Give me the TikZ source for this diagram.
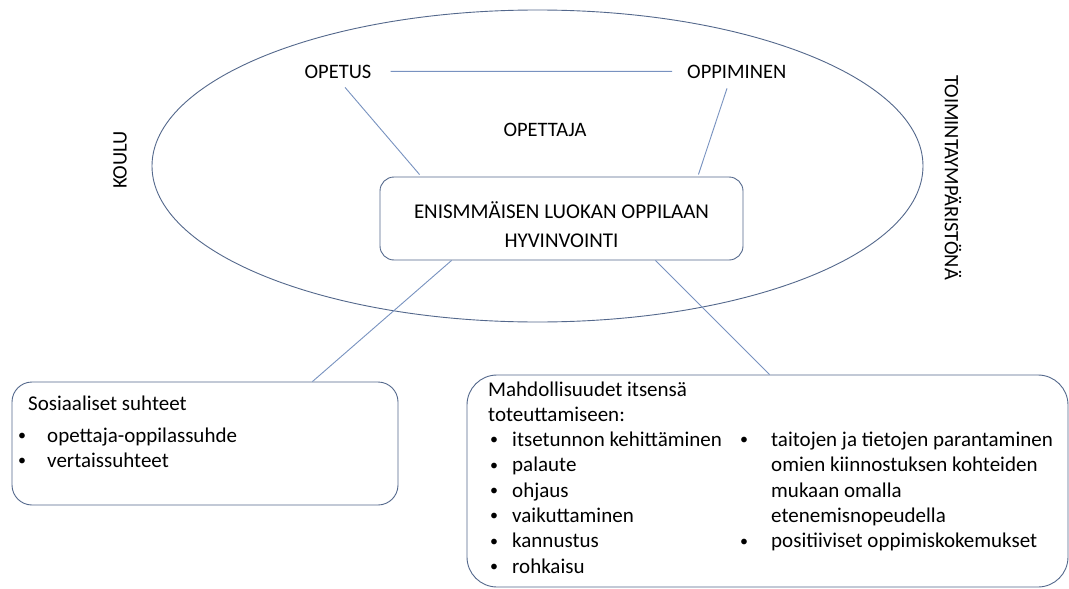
\documentclass[tikz,border=0pt]{standalone}
\usepackage{fontspec}
\setmainfont{Carlito}
\definecolor{outlC}{RGB}{84,104,140}
\definecolor{connC}{RGB}{120,146,192}
\begin{document}
\begin{tikzpicture}[x=1pt,y=-1pt,
  outl/.style={draw=outlC, line width=0.9pt},
  conn/.style={draw=connC, line width=0.9pt},
  lab/.style={font=\fontsize{20.5}{24}\selectfont, inner sep=0pt, text=black},
  maintxt/.style={font=\fontsize{21}{25}\selectfont, inner sep=0pt, text=black, anchor=base},
  ltxt/.style={font=\fontsize{21}{25}\selectfont, inner sep=0pt, text=black, anchor=base west},
  bul/.style={font=\fontsize{16}{20}\selectfont, inner sep=0pt, text=black, anchor=base, yshift=1.8pt},
  boxshape/.style={outl, rectangle, inner sep=0pt}
]
\useasboundingbox (0,0) rectangle (1069,589);
\fill[white] (0,0) rectangle (1069,589);

% environment ellipse
\draw[outl] (537.5,166) ellipse [x radius=385.5, y radius=156];

% labels
\node[lab, anchor=base] (opetus) at (338,78) {OPETUS};
\node[lab, anchor=base west] (oppiminen) at (687,78) {OPPIMINEN};
\node[lab, anchor=base] (opettaja) at (545,136.5) {OPETTAJA};
\node[lab, rotate=90] (koulu) at (120,160) {KOULU};
\node[lab, rotate=-90] (toiminta) at (953,177.5) {TOIMINTAYMPÄRISTÖNÄ};

% central box
\node[boxshape, rounded corners=14pt, minimum width=363pt, minimum height=83pt] (main) at (561.5,218.5) {};
\node[maintxt] (main1) at (561.5,218) {ENISMMÄISEN LUOKAN OPPILAAN};
\node[maintxt] (main2) at (561.5,247) {HYVINVOINTI};

% left box
\node[boxshape, rounded corners=20pt, minimum width=386pt, minimum height=123pt] (social) at (205,443.5) {};
\node[ltxt] (s0) at (28,410) {Sosiaaliset suhteet};
\node[bul] (sb1) at (22,442) {\textbullet};
\node[ltxt] (s1) at (47,442) {opettaja-oppilassuhde};
\node[bul] (sb2) at (22,467) {\textbullet};
\node[ltxt] (s2) at (47,467) {vertaissuhteet};

% right box
\node[boxshape, rounded corners=30pt, minimum width=601pt, minimum height=212pt] (chances) at (767.5,481) {};
\node[ltxt] (r0) at (488,396) {Mahdollisuudet itsensä};
\node[ltxt] (r1) at (488,421.3) {toteuttamiseen:};
\node[bul] (rb2) at (494,446.6) {\textbullet};
\node[ltxt] (r2) at (512,446.6) {itsetunnon kehittäminen};
\node[bul] (rb3) at (494,471.9) {\textbullet};
\node[ltxt] (r3) at (512,471.9) {palaute};
\node[bul] (rb4) at (494,497.2) {\textbullet};
\node[ltxt] (r4) at (512,497.2) {ohjaus};
\node[bul] (rb5) at (494,522.5) {\textbullet};
\node[ltxt] (r5) at (512,522.5) {vaikuttaminen};
\node[bul] (rb6) at (494,547.8) {\textbullet};
\node[ltxt] (r6) at (512,547.8) {kannustus};
\node[bul] (rb7) at (494,573.1) {\textbullet};
\node[ltxt] (r7) at (512,573.1) {rohkaisu};
\node[bul] (qb2) at (744,446.6) {\textbullet};
\node[ltxt] (q2) at (771,446.6) {taitojen ja tietojen parantaminen};
\node[ltxt] (q3) at (771,471.9) {omien kiinnostuksen kohteiden};
\node[ltxt] (q4) at (771,497.2) {mukaan omalla};
\node[ltxt] (q5) at (771,522.5) {etenemisnopeudella};
\node[bul] (qb6) at (744,547.8) {\textbullet};
\node[ltxt] (q6) at (771,547.8) {positiiviset oppimiskokemukset};

% connectors
\draw[conn] ([xshift=19pt]opetus.east) -- ([xshift=-15pt]oppiminen.west);
\draw[conn] ([xshift=7pt,yshift=-9pt]opetus.south) -- ([xshift=40pt,yshift=2pt]main.north west);
\draw[conn] ([xshift=40pt,yshift=-10pt]oppiminen.south west) -- ([xshift=-45pt,yshift=2pt]main.north east);
\draw[conn] ([xshift=72pt]main.south west) -- ([xshift=-86pt]social.north east);
\draw[conn] ([xshift=-88pt]main.south east) -- ([xshift=303pt]chances.north west);
\end{tikzpicture}
\end{document}
